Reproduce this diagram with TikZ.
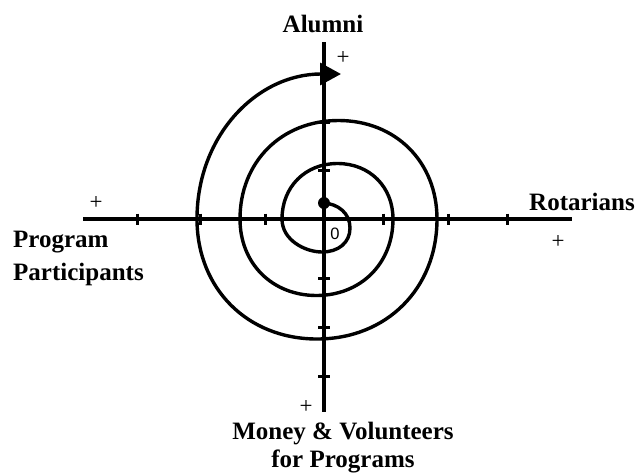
\documentclass[tikz,border=0pt]{standalone}
\usepackage{fontspec}
\setmainfont{Liberation Serif}
\newfontfamily\zerofont{Liberation Sans}
\usetikzlibrary{arrows.meta}
\begin{document}
\begin{tikzpicture}[x=1pt,y=-1pt,
  axis/.style={line width=3.4pt},
  tickmark/.style={line width=3pt},
  spiral/.style={line width=3.4pt, line join=round},
  lbl/.style={font=\fontsize{25}{30}\selectfont\bfseries, inner sep=0pt, anchor=base},
  plus/.style={font=\fontsize{23}{26}\selectfont, inner sep=0pt},
  zero/.style={font=\zerofont\fontsize{16.5}{18}\selectfont, inner sep=0pt}]
\useasboundingbox[fill=white] (0,0) rectangle (635,472);
% axes
\coordinate (xl) at (83,219);
\coordinate (xr) at (572,219);
\coordinate (yt) at (324,42);
\coordinate (yb) at (324,412);
\draw[axis] (xl) -- (xr);
\draw[axis] (yt) -- (yb);
% ticks
\foreach \x in {137,200,265,383,448,507} \draw[tickmark] (\x,213.5) -- (\x,224.5);
\foreach \y in {122,170,278,327,376} \draw[tickmark] (318,\y) -- (330,\y);
% centre dot
\node[circle, fill=black, inner sep=0pt, minimum size=12pt] (dot) at (324,203) {};
% spiral
\draw[spiral, -{Triangle[length=21pt,width=22pt]}] (dot.center)
  .. controls (338,204) and (350,213) .. (350,228)
  .. controls (350,243) and (338,252) .. (322,252)
  .. controls (305,252) and (282,240) .. (282,219)
  .. controls (282,186.8) and (305.3,163.5) .. (337.5,163.5)
  .. controls (369.7,163.5) and (393,186.8) .. (393,219)
  .. controls (393,263.4) and (360.9,295.5) .. (316.5,295.5)
  .. controls (272.1,295.5) and (240,263.4) .. (240,219)
  .. controls (240,161.9) and (281.4,120.5) .. (338.5,120.5)
  .. controls (395.6,120.5) and (437,161.9) .. (437,219)
  .. controls (437,288.6) and (386.6,339) .. (317,339)
  .. controls (247.4,339) and (197,288.6) .. (197,219)
  .. controls (197,134.9) and (257.5,74) .. (341,74);
% labels
\node[lbl] (alumni) at (323,32) {Alumni};
\node[lbl] (rot) at (582,210) {Rotarians};
\node[lbl, anchor=base west] (pp1) at (13,247) {Program};
\node[lbl, anchor=base west] (pp2) at (13,280) {Participants};
\node[lbl] (mv1) at (343,439.5) {Money \& Volunteers};
\node[lbl] (mv2) at (343,467) {for Programs};
% plus signs and zero
\node[plus] (pt) at (343,58) {+};
\node[plus] (pl) at (96,203) {+};
\node[plus] (pr) at (558,242) {+};
\node[plus] (pb) at (306,407) {+};
\node[zero] (z) at (335,234) {0};
\end{tikzpicture}
\end{document}
